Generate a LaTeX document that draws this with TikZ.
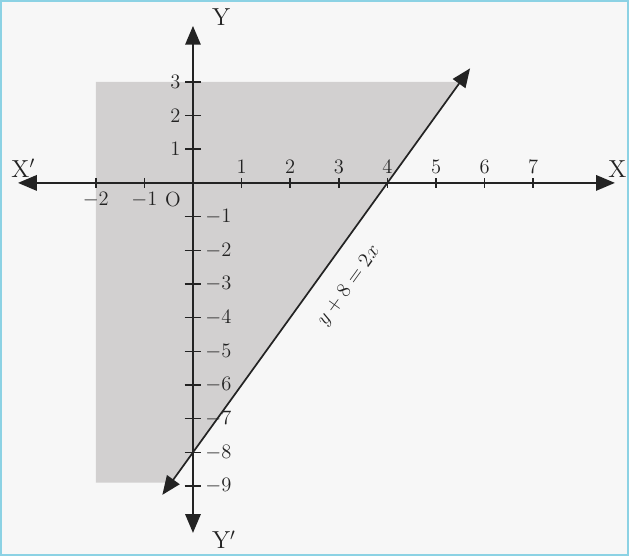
\documentclass[tikz,border=0pt]{standalone}
\usepackage{amsmath, amssymb}
\usepackage{xcolor}
\usepackage{tikz}
\usetikzlibrary{arrows.meta, calc, positioning}
\definecolor{inkgray}{RGB}{35, 35, 35}
\definecolor{shadegray}{RGB}{210, 208, 208}
\definecolor{papercolor}{RGB}{247, 247, 247}
\definecolor{framecyan}{RGB}{140, 210, 228}

\begin{document}
\begin{tikzpicture}[
    x=1cm, y=0.693cm,
    axis/.style   = {{Triangle[length=11pt,width=9pt]}-{Triangle[length=11pt,width=9pt]},
                     line width=1.1pt, color=inkgray},
    graph/.style  = {{Triangle[length=11pt,width=9pt]}-{Triangle[length=11pt,width=9pt]},
                     line width=1pt, color=inkgray},
    tick/.style   = {line width=0.9pt, color=inkgray},
    lbl/.style    = {font=\large, text=inkgray, inner sep=2pt},
    axlbl/.style  = {font=\Large, text=inkgray, inner sep=1pt},
  ]
  % paper and frame
  \useasboundingbox (-3.97,-11.07) rectangle (8.97,5.43);
  \fill[papercolor] (-3.97,-11.07) rectangle (8.97,5.43);
  \draw[framecyan, line width=1.2pt] (-3.95,-11.05) rectangle (8.95,5.41);

  % feasible region y >= 2x - 8
  \fill[shadegray] (-2,3) -- (5.5,3) -- (-0.45,-8.9) -- (-2,-8.9) -- cycle;

  % axes
  \coordinate (xl) at (-3.6,0);
  \coordinate (xr) at (8.68,0);
  \coordinate (yt) at (0,4.66);
  \coordinate (yb) at (0,-10.39);
  \draw[axis] (xl) -- (xr);
  \draw[axis] (yb) -- (yt);

  \node[axlbl, above right=2pt and -5pt of xl] (xlname) {X$'$};
  \node[axlbl, above left=2pt and -8pt of xr] (xrname) {X};
  \node[axlbl, right=10pt of yt, yshift=5pt] (ytname) {Y};
  \node[axlbl, right=10pt of yb, yshift=-4pt] (ybname) {Y$'$};
  \node[lbl] (orig) at (-0.41,-0.5) {O};

  % ticks on X
  \foreach \x in {1,...,7}
    \draw[tick] (\x,-0.15) -- (\x,0.15) node[lbl, above] {$\x$};
  \foreach \x in {-2,-1}
    \draw[tick] (\x,0.15) -- (\x,-0.15) node[lbl, below] {$\x$};

  % ticks on Y
  \foreach \y in {1,2,3}
    \draw[tick] (0.17,\y) -- (-0.17,\y) node[lbl, left] {$\y$};
  \foreach \y in {-1,-2,...,-9}
    \draw[tick] (-0.17,\y) -- (0.17,\y) node[lbl, right] {$\y$};

  % the line y + 8 = 2x
  \coordinate (lo) at (-0.63,-9.26);
  \coordinate (hi) at (5.7,3.4);
  \draw[graph] (lo) -- (hi)
    node[lbl, pos=0.53, sloped, yshift=-0.6cm] (eqn) {$y+8=2x$};
\end{tikzpicture}
\end{document}
